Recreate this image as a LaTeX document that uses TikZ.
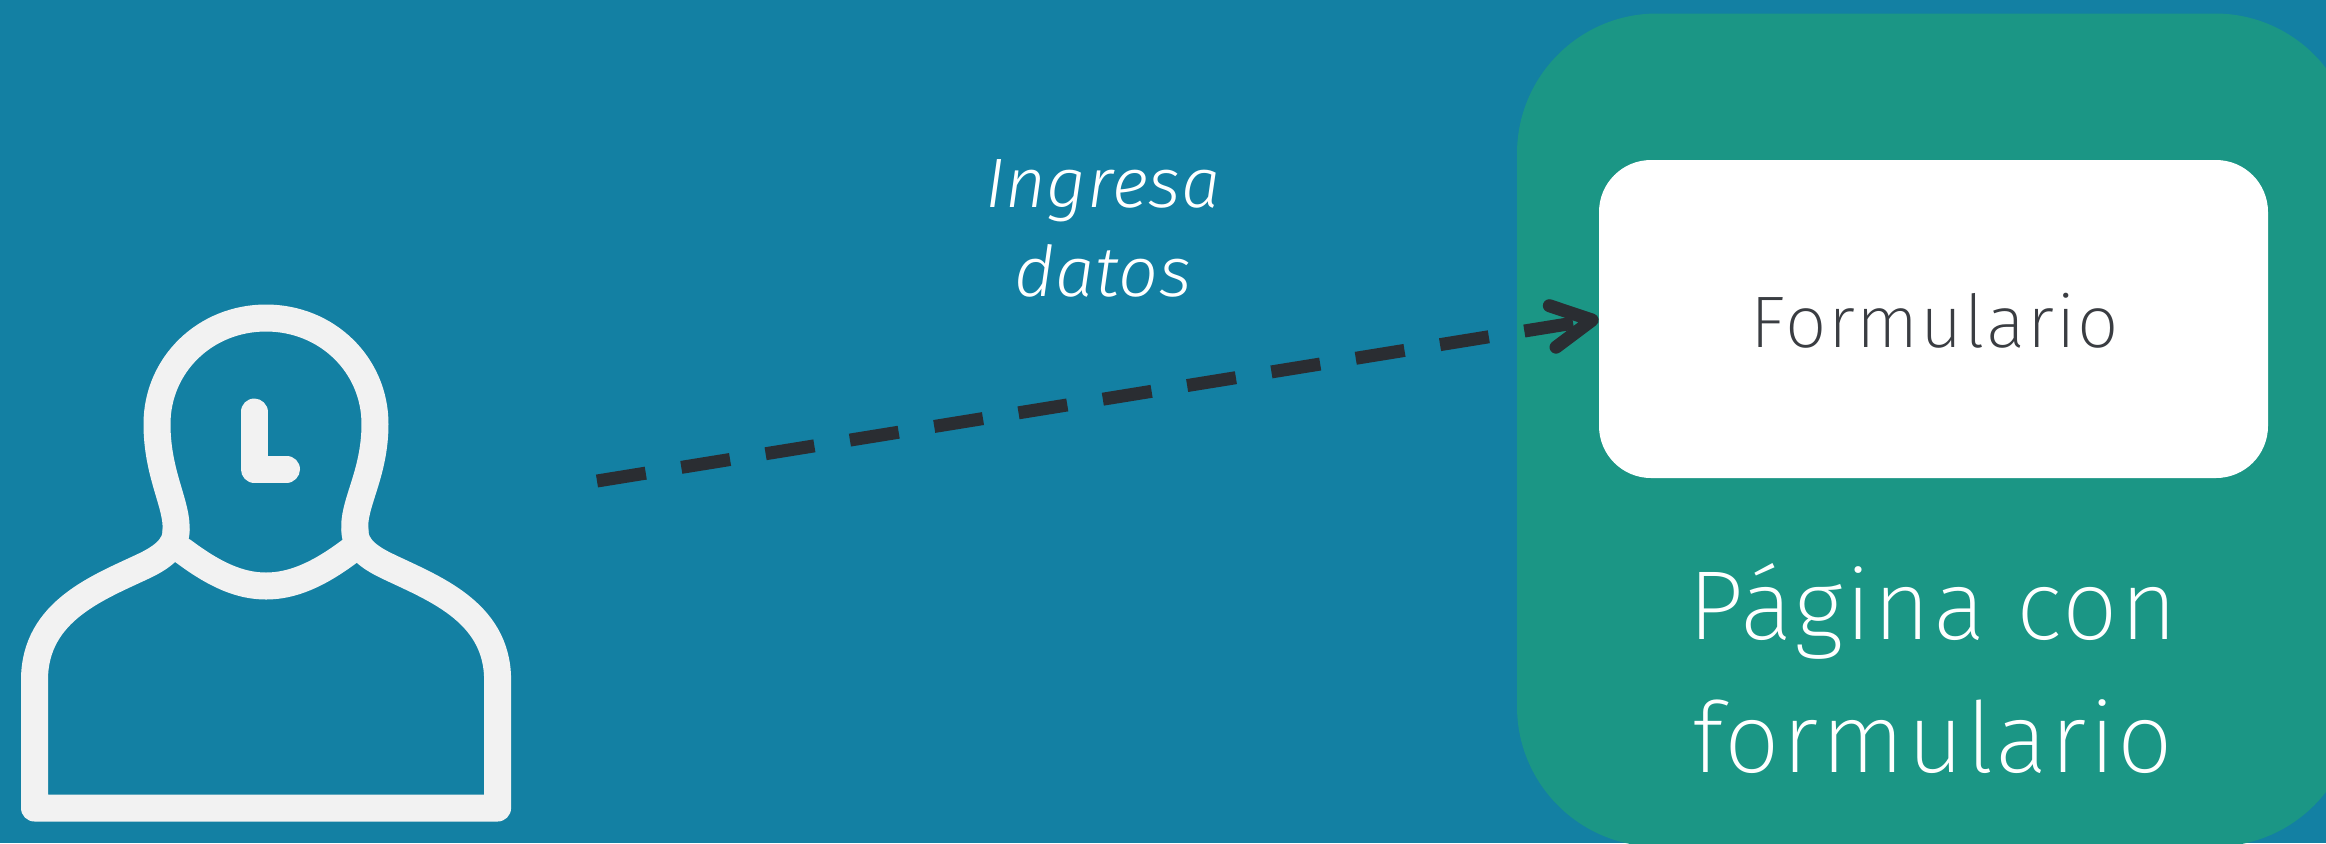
\documentclass[tikz,border=0pt]{standalone}
\usepackage{fontspec}
\usetikzlibrary{arrows.meta}
\newfontfamily\lightfont[LetterSpace=2.5]{Fira Sans ExtraLight}
\newfontfamily\lightital[LetterSpace=1]{Fira Sans Light Italic}
\definecolor{bgblue}{RGB}{19,128,163}
\definecolor{pagegreen}{RGB}{27,150,133}
\definecolor{inkdark}{RGB}{42,45,50}
\definecolor{formtext}{RGB}{58,61,66}
\definecolor{iconwhite}{RGB}{242,242,242}
\tikzset{
  iconline/.style={draw=iconwhite,line width=13.5pt,line join=round,line cap=round},
  pagebox/.style={fill=pagegreen,rounded corners=70pt,minimum width=419pt,minimum height=416.5pt,inner sep=0pt},
  formbox/.style={fill=white,rounded corners=26pt,minimum width=334.5pt,minimum height=159pt,inner sep=0pt},
  flowline/.style={draw=inkdark,line width=6.5pt,dash pattern=on 24.7pt off 18pt,
    -{Straight Barb[length=20pt,width=21pt,line width=6.5pt,round]}},
}
\begin{document}
\begin{tikzpicture}[x=0.5pt,y=-0.5pt]
\useasboundingbox (0,0) rectangle (2326,843);
\clip (0,0) rectangle (2326,843);
\fill[bgblue] (0,0) rectangle (2326,843);
\node[pagebox] (page) at (1936,430) {};
\node[formbox] (form) at (1933.5,319) {};
\node[font=\lightfont\fontsize{36.5}{36.5}\selectfont,text=formtext,anchor=base] (formlabel) at (1935,347) {Formulario};
\node[font=\lightfont\fontsize{49}{66.5}\selectfont,text=white,align=center,anchor=center] (pagelabel) at (1933,668) {Página con\\formulario};
\node[font=\lightital\fontsize{35}{44.5}\selectfont,text=white,align=center,anchor=center] (datalabel) at (1103,228) {Ingresa\\datos};
\coordinate (userhand) at (597,481);
\draw[flowline] (userhand) -- (form.west);
% user icon
\draw[iconline] (176,531) .. controls (178,505) and (157,475) .. (157,424) .. controls (157,365) and (205,318) .. (266,318) .. controls (327,318) and (375,365) .. (375,424) .. controls (375,475) and (352,505) .. (355,531);
\draw[iconline] (183,551) .. controls (215,575) and (240,586) .. (266,586) .. controls (292,586) and (318,575) .. (350,551);
\draw[iconline] (176,531) .. controls (176,548) and (160,558) .. (146,565) .. controls (100,587) and (34.5,610) .. (34.5,680) -- (34.5,808) -- (497.6,808) -- (497.6,680) .. controls (497.6,610) and (430,587) .. (385,565) .. controls (371,558) and (355,548) .. (355,531);
\draw[iconline] (254,412) -- (254,469) -- (286.5,469);
\end{tikzpicture}
\end{document}
